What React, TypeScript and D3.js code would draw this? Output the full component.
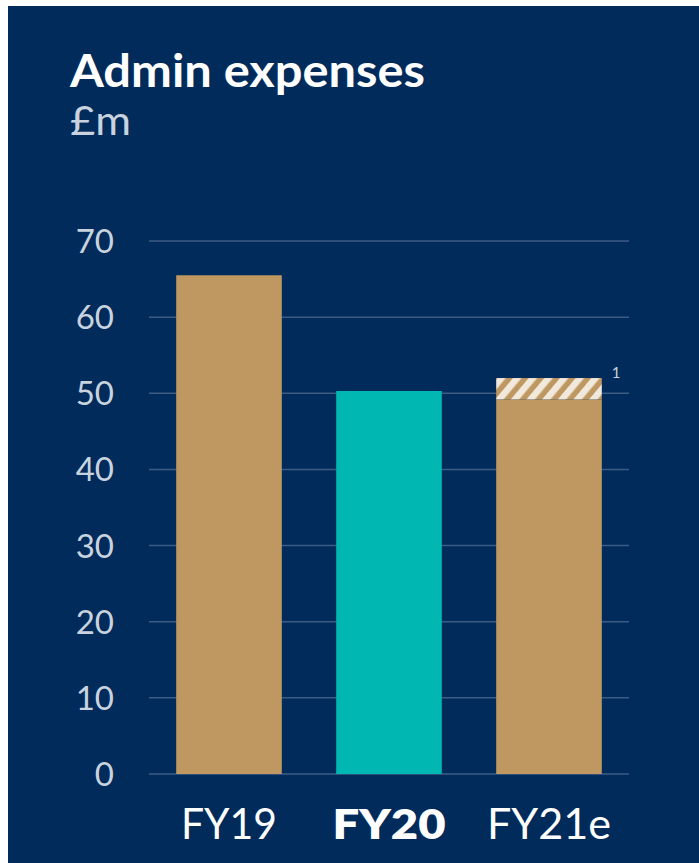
import React from "react";
import * as d3 from "d3";

const categories = ["FY19", "FY20", "FY21e"];
const baseValues = [65.5, 50.3, 49.2];
const hatchTops = [null, null, 52.0];
const highlight = ["FY20"];
const yTicks = [0, 10, 20, 30, 40, 50, 60, 70];
const footnote = "1";
const titleText = "Admin expenses";
const unitText = "£m";

const labelWidths: Record<string, number> = { FY19: 96, FY20: 113, FY21e: 124 };

const W = 699;
const H = 863;
const NAVY = "#002B5B";
const GOLD = "#BE9860";
const TEAL = "#00B8B1";
const CREAM = "#F2E9DD";
const GRID = "#3D5C84";
const TICK = "#C9D3DF";
const FONT = "Lato, 'Open Sans', sans-serif";

export default function App() {
  const x = d3.scaleBand<string>().domain(categories).range([149, 629]).paddingInner(0.34).paddingOuter(0.17);
  const y = d3.scaleLinear().domain([0, 70]).range([774, 241]);
  return (
    <svg width={W} height={H} style={{ position: "absolute", left: 0, top: 0 }}>
      <defs>
        <pattern id="hatch" patternUnits="userSpaceOnUse" width="12" height="12" patternTransform="rotate(40)">
          <rect width="12" height="12" fill={GOLD} />
          <rect width="6.5" height="12" fill={CREAM} />
        </pattern>
      </defs>
      <rect x={8} y={6} width={W - 8} height={H - 6} fill={NAVY} />
      <text x={70} y={87} fill="#FFFFFF" fontFamily={FONT} fontWeight={700} fontSize={45} textLength={355} lengthAdjust="spacingAndGlyphs">{titleText}</text>
      <text x={70} y={135} fill={TICK} fontFamily={FONT} fontWeight={400} fontSize={41} textLength={61} lengthAdjust="spacingAndGlyphs">{unitText}</text>
      {yTicks.map((t) => (
        <g key={t}>
          <line x1={149} x2={629} y1={y(t)} y2={y(t)} stroke={GRID} strokeWidth={1.5} />
          <text x={114} y={y(t) + 12} textAnchor="end" fill={TICK} fontFamily={FONT} fontSize={33}>{t}</text>
        </g>
      ))}
      {categories.map((c, i) => {
        const bx = x(c)!;
        const bw = x.bandwidth();
        const hl = highlight.includes(c);
        const top = hatchTops[i];
        const lw = labelWidths[c];
        return (
          <g key={c}>
            <rect x={bx} y={y(baseValues[i])} width={bw} height={y(0) - y(baseValues[i])} fill={hl ? TEAL : GOLD} />
            {top != null && (
              <>
                <rect x={bx} y={y(top)} width={bw} height={y(baseValues[i]) - y(top)} fill="url(#hatch)" />
                <text x={bx + bw + 10} y={y(top)} fill={TICK} fontFamily={FONT} fontSize={15}>{footnote}</text>
              </>
            )}
            <text x={bx + bw / 2 - lw / 2} y={839} fill="#FFFFFF" fontFamily={FONT} fontWeight={hl ? 800 : 400} fontSize={42} textLength={lw} lengthAdjust="spacingAndGlyphs">{c}</text>
          </g>
        );
      })}
    </svg>
  );
}
